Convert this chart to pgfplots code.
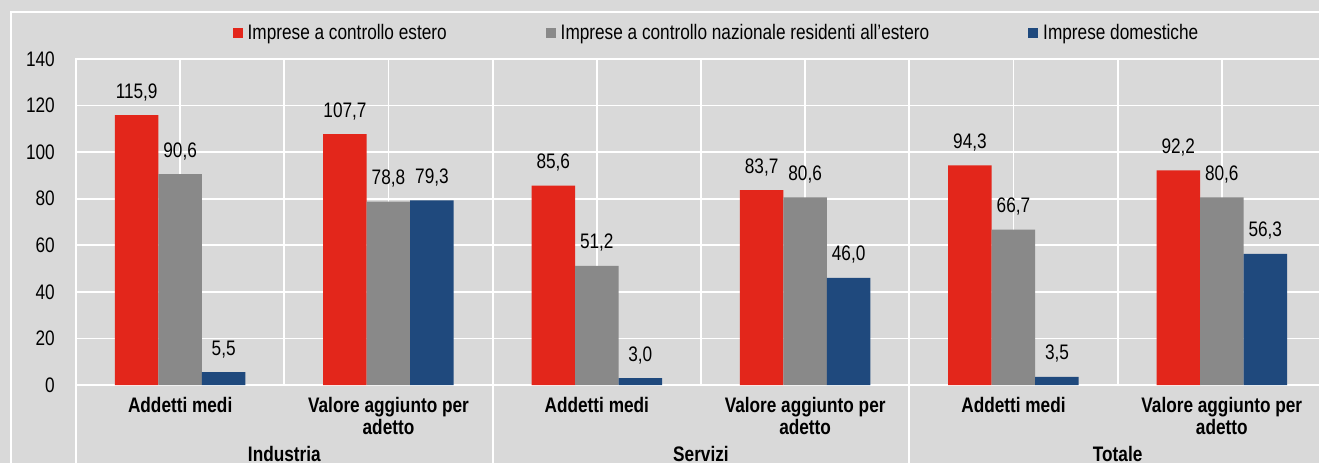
\documentclass[border=0pt]{standalone}
\usepackage{fontspec}
\setmainfont{Liberation Sans}[FakeStretch=0.82]
\usepackage{pgfplots}
\pgfplotsset{compat=1.18}
\definecolor{bgc}{RGB}{217,217,217}
\definecolor{cred}{RGB}{227,38,27}
\definecolor{cgray}{RGB}{137,137,137}
\definecolor{cblue}{RGB}{31,73,125}
\newcommand{\fs}{\fontsize{21bp}{22bp}\selectfont}
\begin{document}
\begin{tikzpicture}
\path[use as bounding box, clip] (0,0) rectangle (1319bp,463bp);
\fill[bgc] (0,0) rectangle (1319bp,463bp);
\draw[white, line width=1.8bp] (11bp,-5bp) -- (11bp,451bp) -- (1330bp,451bp);
\begin{axis}[
  at={(76bp,78bp)}, anchor=south west, scale only axis,
  width=1250bp, height=326bp,
  xmin=-0.5, xmax=5.5, ymin=0, ymax=140,
  ytick={0,20,...,140}, xtick={0,...,5},
  xticklabels={Addetti medi,{Valore aggiunto per\\adetto},Addetti medi,{Valore aggiunto per\\adetto},Addetti medi,{Valore aggiunto per\\adetto}},
  minor x tick num=1,
  ymajorgrids, xmajorgrids, xminorgrids,
  major grid style={white, line width=1.8bp},
  minor grid style={white, line width=1.8bp},
  axis line style={white, line width=1.8bp},
  major tick length=0pt, minor tick length=0pt,
  tick style={draw=none},
  /pgf/number format/assume math mode=true,
  yticklabel style={font=\fs, anchor=east, inner sep=0pt, xshift=-21bp},
  xticklabel style={font=\fs\bfseries, align=center, anchor=north, inner sep=0pt, yshift=-12bp},
  ybar=0pt, bar width=43.5bp,
  clip=false,
  nodes near coords={\pgfmathprintnumber[fixed,fixed zerofill,precision=1,use comma,assume math mode=true]{\pgfplotspointmeta}},
  every node near coord/.append style={font=\fs, text=black, anchor=base, inner sep=0pt, yshift=17bp},
  legend style={at={(axis description cs:0.512,1.0798)}, anchor=center, draw=none, fill=none, font=\fs,
    legend columns=-1, nodes={inner xsep=1bp, inner ysep=0pt},
    /tikz/every odd column/.append style={column sep=4bp},
    /tikz/every even column/.append style={column sep=98bp}},
  legend image code/.code={\fill[#1] (0bp,-5bp) rectangle (10bp,5bp);},
]
\addplot[fill=cred, draw=none] coordinates {(0,115.9) (1,107.7) (2,85.6) (3,83.7) (4,94.3) (5,92.2)};
\addplot[fill=cgray, draw=none] coordinates {(0,90.6) (1,78.8) (2,51.2) (3,80.6) (4,66.7) (5,80.6)};
\addplot[fill=cblue, draw=none] coordinates {(0,5.5) (1,79.3) (2,3.0) (3,46.0) (4,3.5) (5,56.3)};
\legend{Imprese a controllo estero, Imprese a controllo nazionale residenti all'estero, Imprese domestiche}
\draw[white, line width=1.8bp] (axis cs:-0.5,0) -- ([yshift=-100bp]axis cs:-0.5,0);
\draw[white, line width=1.8bp] (axis cs:1.5,0) -- ([yshift=-100bp]axis cs:1.5,0);
\draw[white, line width=1.8bp] (axis cs:3.5,0) -- ([yshift=-100bp]axis cs:3.5,0);
\node[font=\fs\bfseries, anchor=base, yshift=-76bp] at (axis cs:0.5,0) {Industria};
\node[font=\fs\bfseries, anchor=base, yshift=-76bp] at (axis cs:2.5,0) {Servizi};
\node[font=\fs\bfseries, anchor=base, yshift=-76bp] at (axis cs:4.5,0) {Totale};
\end{axis}
\end{tikzpicture}
\end{document}
